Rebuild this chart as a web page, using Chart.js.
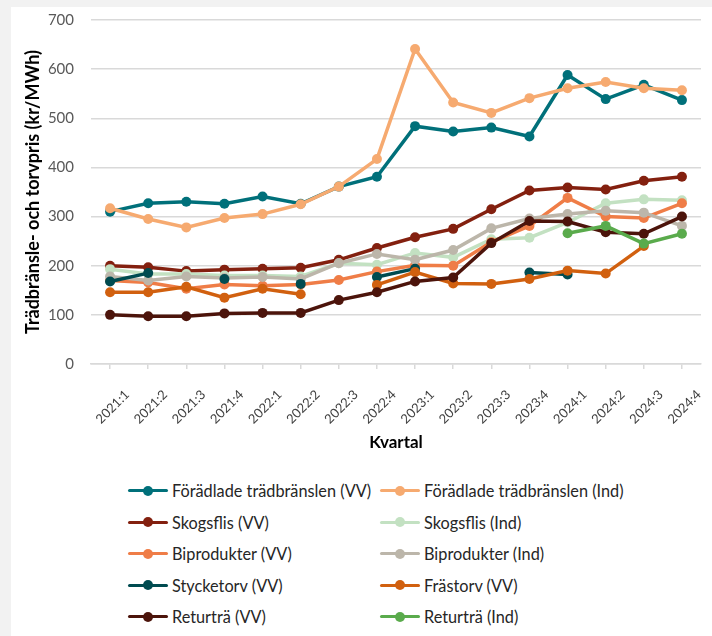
<!DOCTYPE html>
<html>
<head>
<meta charset="utf-8">
<script src="https://cdn.jsdelivr.net/npm/chart.js@4/dist/chart.umd.min.js"></script>
<style>
  html, body { margin: 0; padding: 0; }
  body { width: 712px; height: 636px; background: #f2f2f2; position: relative; overflow: hidden; font-family: Lato, "Liberation Sans", sans-serif; }
  #card { position: absolute; left: 11px; top: 7px; width: 701px; height: 629px; background: #ffffff; }
  #wrap { position: absolute; left: 0; top: 0; width: 712px; height: 470px; }
  #legend { position: absolute; left: 128px; top: 475px; display: grid; grid-template-columns: 252px 260px; grid-auto-rows: 31.5px; }
  .item { display: flex; align-items: center; height: 31.5px; color: #262626; font-size: 16.3px; white-space: nowrap; }
  .sw { position: relative; width: 40px; height: 10px; margin-right: 4px; flex: none; }
  .sw .ln { position: absolute; left: 0; right: 0; top: 3.5px; height: 3px; border-radius: 1.5px; }
  .sw .dot { position: absolute; left: 15px; top: 0; width: 10px; height: 10px; border-radius: 50%; }
</style>
</head>
<body>
<div id="card"></div>
<div id="wrap"><canvas id="c" width="712" height="470"></canvas></div>
<div id="legend"></div>
<script>
const categories = ["2021:1","2021:2","2021:3","2021:4","2022:1","2022:2","2022:3","2022:4","2023:1","2023:2","2023:3","2023:4","2024:1","2024:2","2024:3","2024:4"];
const yTicks = [0, 100, 200, 300, 400, 500, 600, 700];

const foradladeVV   = [310, 327, 330, 326, 341, 326, 361, 381, 484, 473, 481, 463, 588, 539, 568, 537];
const foradladeInd  = [317, 295, 278, 297, 305, 325, 361, 417, 641, 532, 511, 541, 561, 574, 561, 557];
const skogsflisVV   = [200, 197, 189, 192, 194, 196, 212, 236, 258, 275, 315, 353, 359, 355, 373, 381];
const skogsflisInd  = [193, 183, 183, 180, 180, 178, 205, 202, 226, 217, 254, 257, 288, 327, 335, 333];
const biprodukterVV = [170, 166, 153, 162, 159, 162, 171, 188, 201, 200, 248, 281, 338, 300, 297, 327];
const biprodukterInd= [178, 170, 178, 175, 177, 173, 205, 224, 212, 232, 276, 296, 305, 312, 308, 281];
const stycketorvVV  = [168, 185, null, 173, null, 163, null, 177, 194, null, null, 186, 182, null, null, null];
const frastorvVV    = [146, 146, 157, 135, 153, 142, null, 161, 187, 164, 163, 173, 190, 184, 240, null];
const returtraVV    = [100, 97, 97, 103, 104, 104, 130, 146, 168, 176, 246, 291, 290, 268, 265, 300];
const returtraInd   = [null, null, null, null, null, null, null, null, null, null, null, null, 266, 281, 245, 265];

const seriesNames = ["Förädlade trädbränslen (VV)", "Förädlade trädbränslen (Ind)", "Skogsflis (VV)", "Skogsflis (Ind)", "Biprodukter (VV)", "Biprodukter (Ind)", "Stycketorv (VV)", "Frästorv (VV)", "Returträ (VV)", "Returträ (Ind)"];
const seriesData = [foradladeVV, foradladeInd, skogsflisVV, skogsflisInd, biprodukterVV, biprodukterInd, stycketorvVV, frastorvVV, returtraVV, returtraInd];
const seriesColors = ["#00707a", "#f6aa70", "#83200f", "#c3e1c2", "#ef7d47", "#bcb6aa", "#004b50", "#d1600f", "#4c140b", "#5aab4c"];

const datasets = seriesNames.map((name, i) => ({
  label: name,
  data: seriesData[i],
  borderColor: seriesColors[i],
  backgroundColor: seriesColors[i],
  pointBackgroundColor: seriesColors[i],
  pointBorderColor: seriesColors[i],
  borderWidth: 3.5,
  pointRadius: 5,
  pointBorderWidth: 0,
  pointHoverRadius: 5,
  tension: 0,
  spanGaps: false,
  order: seriesNames.length - i
}));

const chart = new Chart(document.getElementById('c'), {
  type: 'line',
  data: { labels: categories, datasets },
  options: {
    responsive: false,
    animation: false,
    devicePixelRatio: 1,
    layout: { padding: { left: 0, right: 11, top: 20, bottom: 0 } },
    plugins: { legend: { display: false }, tooltip: { enabled: false } },
    scales: {
      x: {
        offset: true,
        grid: { display: true, drawOnChartArea: false, drawTicks: true, tickLength: 5, color: '#d9d9d9', lineWidth: 1.5 },
        border: { display: true, color: '#d9d9d9', width: 1.5 },
        ticks: { minRotation: 45, maxRotation: 45, color: '#404040', font: { family: 'Lato', size: 13 }, padding: 18, labelOffset: 17 },
        title: { display: true, text: 'Kvartal', color: '#000000', font: { family: 'Lato', size: 17, weight: 'bold' }, padding: { top: 0, bottom: 17 } },
        afterFit: (s) => { s.height = 106; s.paddingLeft = 0; s.paddingRight = 0; }
      },
      y: {
        min: 0, max: 700,
        afterBuildTicks: (s) => { s.ticks = yTicks.map(v => ({ value: v })); },
        grid: { color: '#d9d9d9', lineWidth: 1.5, drawTicks: false },
        border: { display: false },
        ticks: { color: '#595959', font: { family: 'Lato', size: 15 }, padding: 17 },
        title: { display: true, text: 'Trädbränsle- och torvpris (kr/MWh)', color: '#000000', font: { family: 'Lato', size: 18, weight: 'bold' }, padding: { top: 22, bottom: 0 } },
        afterFit: (s) => { s.width = 91; s.paddingTop = 0; s.paddingBottom = 0; }
      }
    }
  }
});

const legend = document.getElementById('legend');
chart.data.datasets.forEach((ds) => {
  const item = document.createElement('div');
  item.className = 'item';
  const sw = document.createElement('span');
  sw.className = 'sw';
  const ln = document.createElement('span'); ln.className = 'ln'; ln.style.background = ds.borderColor;
  const dot = document.createElement('span'); dot.className = 'dot'; dot.style.background = ds.borderColor;
  sw.appendChild(ln); sw.appendChild(dot);
  const tx = document.createElement('span'); tx.textContent = ds.label;
  item.appendChild(sw); item.appendChild(tx);
  legend.appendChild(item);
});
</script>
</body>
</html>
